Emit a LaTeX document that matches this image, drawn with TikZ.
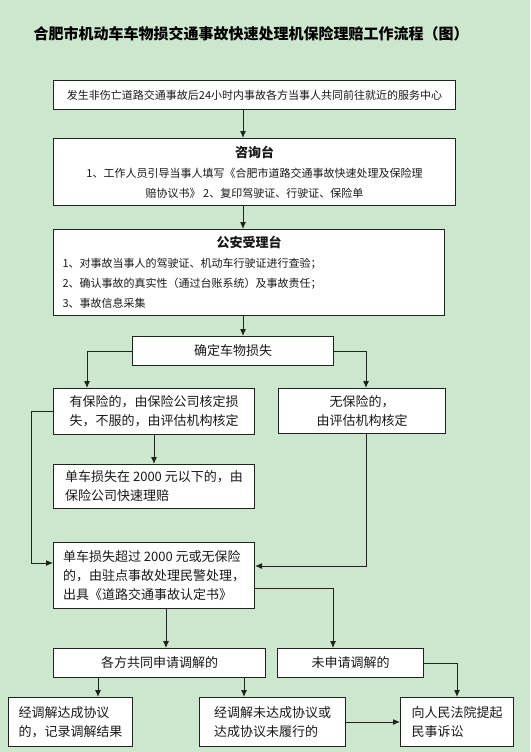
\documentclass[tikz,border=0pt]{standalone}
\usepackage{fontspec}
\setmainfont{Noto Sans CJK SC}
\usetikzlibrary{arrows.meta,calc}
\definecolor{bggreen}{RGB}{205,231,206}
\definecolor{linedark}{RGB}{28,36,28}
\tikzset{
  box/.style      ={draw=linedark,fill=white,line width=1pt,anchor=north west,inner sep=0pt,align=center,text=black!90},
  smalltext/.style={font=\fontsize{11}{20}\selectfont},
  bigtext/.style  ={font=\fontsize{13}{19}\selectfont},
  arrow/.style    ={-{Latex[length=7pt,width=6pt]},line width=1pt,draw=linedark}
}

\begin{document}
\begin{tikzpicture}[x=1pt,y=-1pt]
    \fill[bggreen] (0,0) rectangle (530,752);
    \node[anchor=west,font=\fontsize{15}{17}\selectfont\bfseries] (title) at (30,34) {合肥市机动车车物损交通事故快速处理机保险理赔工作流程（图）};
    \node[box,smalltext,minimum width=402pt,minimum height=29pt] (start)   at (53,80)  {发生非伤亡道路交通事故后24小时内事故各方当事人共同前往就近的服务中心};
    \node[box,smalltext,minimum width=402pt,minimum height=67pt] (consult) at (53,138) {{\fontsize{13}{20}\selectfont\bfseries 咨询台}\\1、工作人员引导当事人填写《合肥市道路交通事故快速处理及保险理\\赔协议书》 2、复印驾驶证、行驶证、保险单};
    \node[box,smalltext,text width=373pt,inner xsep=9pt,align=left,minimum height=86pt] (police) at (53,229) {\makebox[\hsize]{\fontsize{13}{20}\selectfont\bfseries 公安受理台}\\1、对事故当事人的驾驶证、机动车行驶证进行查验；\\2、确认事故的真实性（通过台账系统）及事故责任；\\3、事故信息采集};
    \node[box,bigtext,minimum width=201pt,minimum height=29pt] (loss)      at (132,336) {确定车物损失};
    \node[box,bigtext,align=left,minimum width=201pt,minimum height=46pt] (insured)   at (53,388)  {有保险的，由保险公司核定损\\失，不服的，由评估机构核定};
    \node[box,bigtext,minimum width=167pt,minimum height=45pt] (uninsured) at (278,388) {无保险的，\\由评估机构核定};
    \node[box,bigtext,align=left,minimum width=201pt,minimum height=44pt] (quick)     at (53,464)  {单车损失在 2000 元以下的，由\\保险公司快速理赔};
    \node[box,bigtext,align=left,minimum width=201pt,minimum height=66pt] (handle)    at (53,542)  {单车损失超过 2000 元或无保险\\的，由驻点事故处理民警处理，\\出具《道路交通事故认定书》};
    \node[box,bigtext,minimum width=212pt,minimum height=29pt] (mediate)   at (53,648)  {各方共同申请调解的};
    \node[box,bigtext,minimum width=146pt,minimum height=29pt] (nomediate) at (277,648) {未申请调解的};
    \node[box,bigtext,align=left,minimum width=124pt,minimum height=49pt] (agreed)    at (8,697)   {经调解达成协议\\的，记录调解结果};
    \node[box,bigtext,align=left,minimum width=146pt,minimum height=49pt] (failed)    at (199,697) {经调解未达成协议或\\达成协议未履行的};
    \node[box,bigtext,align=left,minimum width=113pt,minimum height=49pt] (court)     at (400,697) {向人民法院提起\\民事诉讼};
    \coordinate (axis) at (243,0);
    \coordinate (lcol) at (87,0);
    \coordinate (rcol) at (366,0);
    \coordinate (mcol) at (166,0);
    \coordinate (ncol) at (333,0);
    \coordinate (acol) at (98,0);
    \coordinate (fcol) at (244,0);
    \coordinate (lrow) at (0,563);
    \coordinate (rrow) at (0,566);
    \coordinate (nrow) at (0,588);
    \draw[arrow] (start.south -| axis) -- (consult.north -| axis);
    \draw[arrow] (consult.south -| axis) -- (police.north -| axis);
    \draw[arrow] (police.south -| axis) -- (loss.north -| axis);
    \draw[arrow] (loss.west) -| (insured.north -| lcol);
    \draw[arrow] (loss.east) -| (uninsured.north -| rcol);
    \draw[arrow] (insured.south) -- (quick.north);
    \draw[arrow] (insured.west) -- ++(-22,0) |- (handle.west |- lrow);
    \draw[arrow] (uninsured.south -| rcol) |- (handle.east |- rrow);
    \draw[arrow] (handle.south -| mcol) -- (mediate.north -| mcol);
    \draw[arrow] (handle.east |- nrow) -| (nomediate.north -| ncol);
    \draw[arrow] (mediate.south -| acol) -- (agreed.north -| acol);
    \draw[arrow] (mediate.south -| fcol) -- (failed.north -| fcol);
    \draw[arrow] (nomediate.east) -| (court.north);
    \draw[arrow] (failed.east) -- (court.west);
\end{tikzpicture}
\end{document}
